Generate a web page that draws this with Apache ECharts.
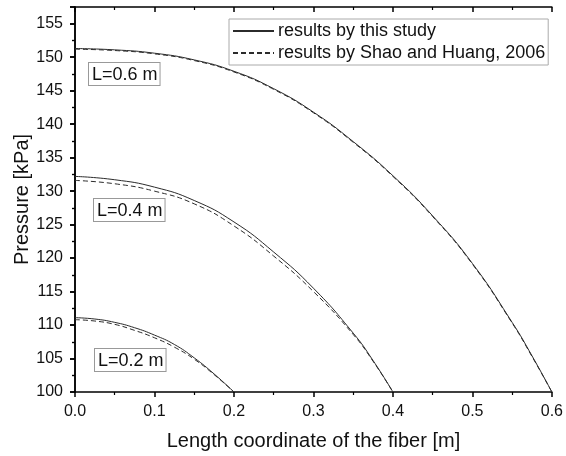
<!DOCTYPE html>
<html>
<head>
<meta charset="utf-8">
<script src="https://cdn.jsdelivr.net/npm/echarts@6/dist/echarts.min.js"></script>
<style>
  html, body { margin: 0; padding: 0; background: #fff; }
  #chart { width: 566px; height: 456px; }
</style>
</head>
<body>
<div id="chart"></div>
<script>
  // values
  const studyName = 'results by this study'
  const shaoName = 'results by Shao and Huang, 2006'

  const x06 = [0, 0.05, 0.1, 0.15, 0.2, 0.25, 0.3, 0.35, 0.4, 0.45, 0.5, 0.55, 0.575, 0.6]
  const study06 = [151.3, 151.1, 150.6, 149.6, 147.9, 145.3, 141.8, 137.4, 132.3, 126.3, 119.2, 110.4, 105.4, 100]
  const shao06 = [151.2, 151.0, 150.5, 149.5, 147.8, 145.2, 141.7, 137.3, 132.2, 126.2, 119.1, 110.3, 105.3, 100]

  const x04 = [0, 0.05, 0.1, 0.15, 0.2, 0.25, 0.3, 0.35, 0.375, 0.4]
  const study04 = [132.2, 131.7, 130.6, 128.6, 125.4, 120.9, 115.5, 108.8, 104.7, 100]
  const shao04 = [131.6, 131.1, 130.0, 128.1, 124.8, 120.3, 115.0, 108.6, 104.6, 100]

  const x02 = [0, 0.025, 0.05, 0.075, 0.1, 0.125, 0.15, 0.175, 0.2]
  const study02 = [111.1, 110.9, 110.4, 109.6, 108.5, 107.1, 105.1, 102.7, 100]
  const shao02 = [110.8, 110.6, 110.1, 109.2, 108.1, 106.7, 104.9, 102.6, 100]

  const lengthLabels = ['L=0.6 m', 'L=0.4 m', 'L=0.2 m']

  const zip = (xs, ys) => xs.map((x, i) => [x, ys[i]])

  const font = 'Liberation Sans, Arial, sans-serif'
  const ink = '#2b2b2b'

  function lineSeries(name, xs, ys, dashed) {
    return {
      name: name,
      type: 'line',
      symbol: 'none',
      smooth: 0.5,
      lineStyle: {
        color: ink,
        width: 1,
        type: dashed ? [5, 3] : 'solid'
      },
      itemStyle: { color: ink },
      data: zip(xs, ys)
    }
  }

  const tickLine = { color: '#000', width: 1.5 }
  const minorLine = { color: '#000', width: 1.2 }

  const bottomAxis = {
    type: 'value',
    min: 0,
    max: 0.6,
    interval: 0.1,
    position: 'bottom',
    name: 'Length coordinate of the fiber [m]',
    nameLocation: 'middle',
    nameGap: 39,
    nameMoveOverlap: false,
    nameTextStyle: { fontFamily: font, fontSize: 20, color: '#111' },
    axisLine: { lineStyle: tickLine },
    axisTick: { length: 5, lineStyle: tickLine },
    minorTick: { show: true, splitNumber: 2, length: 3, lineStyle: minorLine },
    axisLabel: {
      margin: 12,
      fontFamily: font,
      fontSize: 16,
      color: '#111',
      formatter: v => v.toFixed(1)
    },
    splitLine: { show: false }
  }

  const topAxis = {
    type: 'value',
    min: 0,
    max: 0.6,
    interval: 0.1,
    position: 'top',
    axisLine: { lineStyle: tickLine },
    axisTick: { inside: true, length: 5, lineStyle: tickLine },
    minorTick: { show: true, splitNumber: 2, length: 3, lineStyle: minorLine },
    axisLabel: { show: false },
    splitLine: { show: false }
  }

  const leftAxis = {
    type: 'value',
    min: 100,
    max: 157.5,
    interval: 5,
    position: 'left',
    name: 'Pressure [kPa]',
    nameLocation: 'middle',
    nameGap: 43,
    nameMoveOverlap: false,
    nameTextStyle: { fontFamily: font, fontSize: 20, color: '#111' },
    axisLine: { lineStyle: tickLine },
    axisTick: { length: 5, lineStyle: tickLine },
    minorTick: { show: true, splitNumber: 2, length: 3, lineStyle: minorLine },
    axisLabel: {
      margin: 12,
      fontFamily: font,
      fontSize: 16,
      color: '#111',
      formatter: v => (v % 5 === 0 ? String(v) : '')
    },
    splitLine: { show: false }
  }

  const rightAxis = {
    type: 'value',
    min: 100,
    max: 157.5,
    interval: 5,
    position: 'right',
    axisLine: { lineStyle: tickLine },
    axisTick: { inside: true, length: 5, lineStyle: tickLine },
    minorTick: { show: true, splitNumber: 2, length: 3, lineStyle: minorLine },
    axisLabel: { show: false },
    splitLine: { show: false }
  }

  function labelBox(text, left, top) {
    return {
      type: 'text',
      left: left,
      top: top,
      z: 10,
      style: {
        text: text,
        font: '18px ' + font,
        fill: '#111',
        backgroundColor: '#fff',
        borderColor: '#999',
        borderWidth: 1,
        padding: [3, 2, 1, 3]
      }
    }
  }

  const chart = echarts.init(document.getElementById('chart'))
  chart.setOption({
    animation: false,
    backgroundColor: '#fff',
    grid: { left: 75, right: 13, top: 7, bottom: 63, containLabel: false },
    xAxis: [bottomAxis, topAxis],
    yAxis: [leftAxis, rightAxis],
    legend: {
      orient: 'vertical',
      left: 229,
      top: 19,
      itemWidth: 41,
      itemHeight: 10,
      itemGap: 4,
      padding: [3, 3, 3, 3],
      borderColor: '#aaa',
      borderWidth: 1,
      backgroundColor: '#fff',
      itemStyle: { opacity: 0 },
      textStyle: { fontFamily: font, fontSize: 18, color: '#111', padding: [0, 0, 0, -1] },
      data: [studyName, shaoName]
    },
    graphic: [
      labelBox(lengthLabels[0], 88, 62),
      labelBox(lengthLabels[1], 93, 198),
      labelBox(lengthLabels[2], 94, 348)
    ],
    series: [
      lineSeries(studyName, x06, study06, false),
      lineSeries(shaoName, x06, shao06, true),
      lineSeries(studyName, x04, study04, false),
      lineSeries(shaoName, x04, shao04, true),
      lineSeries(studyName, x02, study02, false),
      lineSeries(shaoName, x02, shao02, true)
    ]
  })
</script>
</body>
</html>
